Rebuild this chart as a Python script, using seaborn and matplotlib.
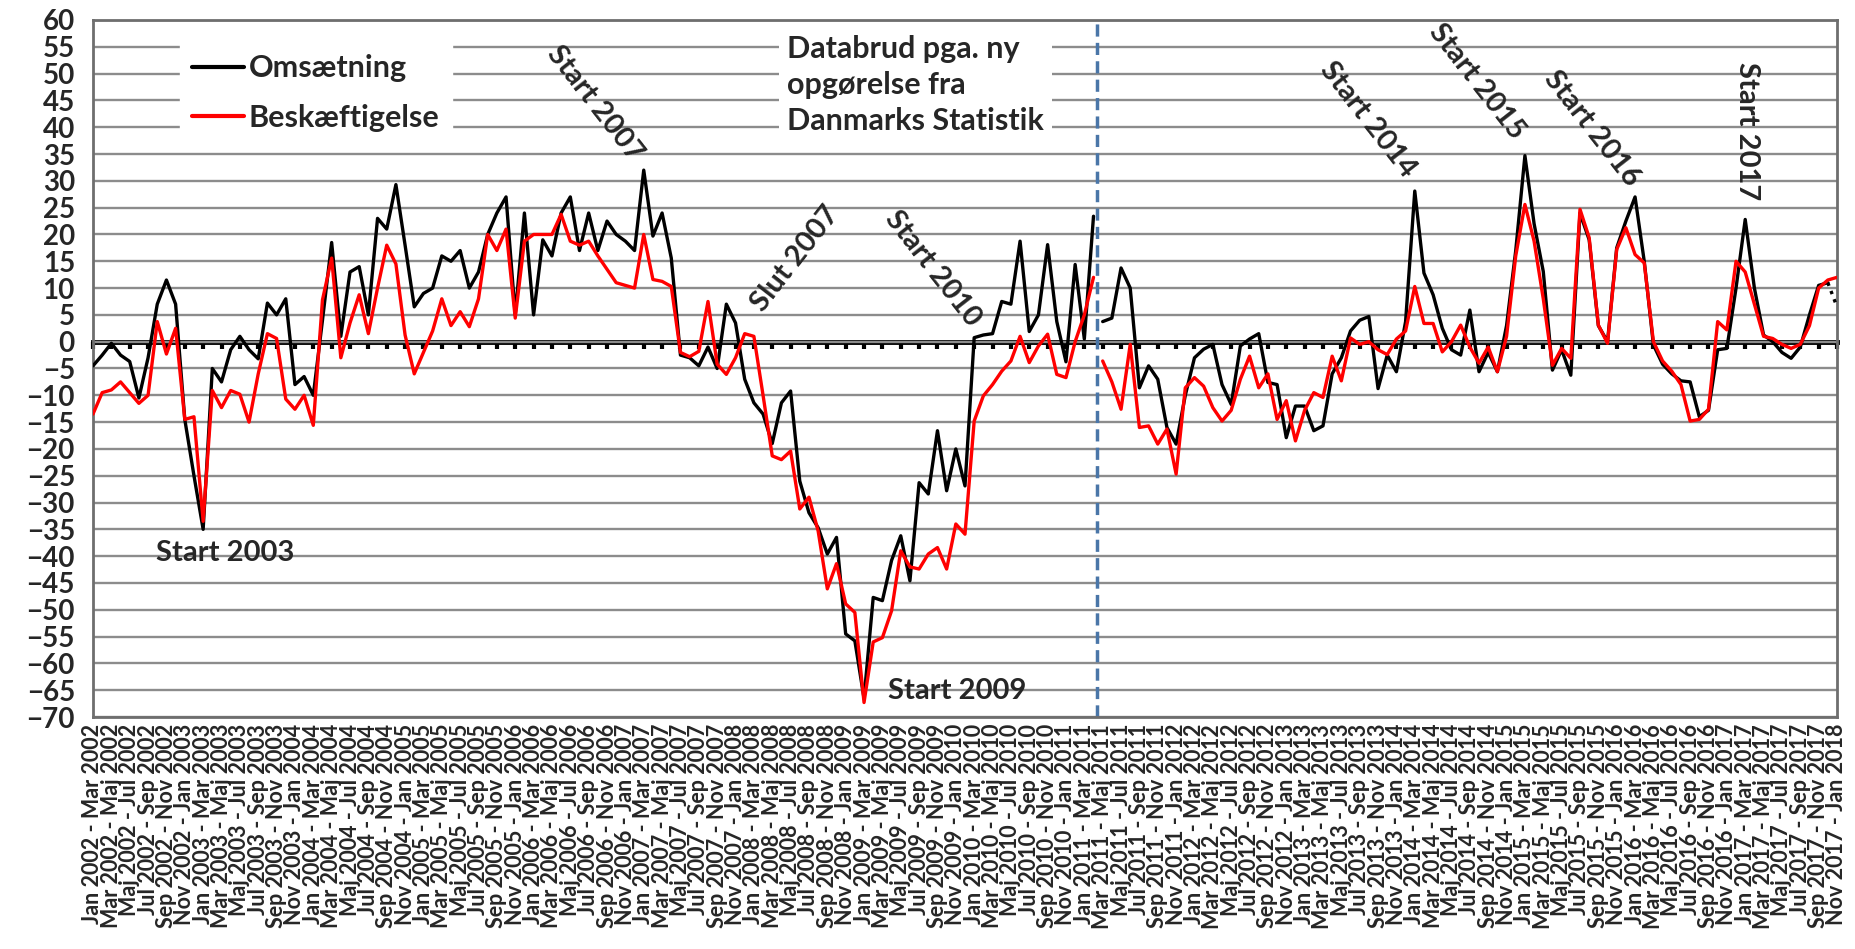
import pandas as pd
import matplotlib
matplotlib.use('Agg')
import matplotlib.pyplot as plt
from matplotlib.lines import Line2D
import seaborn as sns

# Rolling 3-month periods, Jan 2002 - Mar 2002 ... Nov 2017 - Jan 2018
month_names = ['Jan', 'Feb', 'Mar', 'Apr', 'Maj', 'Jun', 'Jul', 'Aug', 'Sep', 'Okt', 'Nov', 'Dec']
first_year = 2002
n_periods = 191
break_index = 110  # new series from Danmarks Statistik starts here

# Omsaetning (black), old series
omsaetning_old = [
    -4.5, -2.5, -0.3, -2.5, -3.7, -10.5, -3, 7, 11.5, 7, -14.5, -25,
    -35, -5, -7.5, -1.5, 1, -1.5, -3.2, 7.2, 5, 8, -8, -6.5,
    -10, 4, 18.5, 1, 13, 14, 5, 23, 21, 29.3, 18, 6.5,
    9, 10, 16, 15, 17, 10, 13, 20, 24, 27, 5, 24,
    5, 19, 16, 24, 27, 17, 24, 17, 22.5, 20, 18.75, 17,
    32, 19.7, 24, 15.6, -2.5, -3, -4.5, -1, -5, 7, 3.5, -7,
    -11.4, -13.5, -19, -11.4, -9.2, -26, -31.9, -34.7, -39.6, -36.5, -54.5, -55.8,
    -66.5, -47.7, -48.3, -40.8, -36.2, -44.6, -26.3, -28.4, -16.6, -27.8, -20, -26.9,
    0.75, 1.25, 1.5, 7.5, 7, 18.75, 1.9, 5, 18.1, 3.75, -3.75, 14.4, 0.5, 23.4,
]
# Omsaetning (black), new series
omsaetning_new = [
    3.75, 4.4, 13.75, 10, -8.6, -4.5, -7, -16, -19.1, -10,
    -3, -1.4, -0.5, -8, -11.7, -0.8, 0.5, 1.5, -7.6, -8,
    -17.9, -12, -12, -16.6, -15.7, -6, -3, 2, 4, 4.7,
    -8.75, -2.5, -5.6, 3.75, 28.1, 12.8, 8.75, 2.5, -1.5, -2.5,
    5.9, -5.6, -2, -5.6, 3, 17, 34.7, 22, 13.1, -5.3,
    -1.5, -6.25, 24, 19, 3, 0, 17.5, 22.5, 27, 15,
    -0.6, -4.2, -6, -7.3, -7.5, -14, -12.8, -1.5, -1.25, 10,
    22.8, 10, 1.25, 0, -2, -3.1, -1, 5, 10.5, 11, 6.5,
]
# Beskaeftigelse (red), old series
beskaeftigelse_old = [
    -13.5, -9.5, -9, -7.5, -9.5, -11.5, -10, 3.75, -2.3, 2.5, -14.5, -14,
    -33.5, -9.1, -12.3, -9.1, -9.8, -15, -6, 1.5, 0.6, -10.7, -12.6, -10,
    -15.6, 7.8, 15.6, -3, 3.5, 8.75, 1.5, 10, 18, 14.5, 1.25, -6,
    -2, 2, 8, 3, 5.6, 2.8, 8, 20, 17, 21, 4.4, 18.75,
    20, 20, 20, 23.75, 18.75, 18, 18.75, 16, 13.5, 11, 10.5, 10,
    20, 11.6, 11.25, 10.3, -2, -2.8, -1.8, 7.5, -4.2, -6.1, -3, 1.5,
    1, -10, -21.3, -22, -20.4, -31.2, -29, -35.3, -46.1, -41.4, -48.9, -50.5,
    -67.3, -56, -55.2, -50.2, -39, -42, -42.4, -39.6, -38.4, -42.4, -34, -35.9,
    -14.8, -10.1, -8, -5.5, -3.6, 1, -3.9, -0.8, 1.4, -6.1, -6.7, 0, 5, 12,
]
# Beskaeftigelse (red), new series
beskaeftigelse_new = [
    -3.6, -7.5, -12.6, -0.5, -16, -15.7, -19.1, -16.3, -24.7, -8.6,
    -6.7, -8.3, -12.3, -14.8, -12.8, -7, -2.7, -8.6, -6, -14.5,
    -11, -18.5, -12.8, -9.5, -10.4, -2.7, -7.3, 0.7, -0.5, 0,
    -1.5, -2.4, 0.5, 2, 10.3, 3.4, 3.4, -1.9, 0, 3.1,
    -1, -4, -1, -5.6, 1, 16, 25.6, 18.75, 8, -4.4,
    -1.25, -3.1, 24.7, 19.4, 3.1, -0.3, 17.2, 21.25, 16.25, 14.7,
    0, -3.6, -5.5, -8, -14.8, -14.5, -12.6, 3.75, 2.2, 15,
    13, 7, 1, 0.6, -0.5, -1.25, -0.5, 3, 10, 11.5, 12,
]

# tick labels every second period
tick_positions = list(range(0, n_periods, 2))
tick_labels = []
for k in tick_positions:
    m0, y0 = k % 12, first_year + k // 12
    m1, y1 = (k + 2) % 12, first_year + (k + 2) // 12
    tick_labels.append(f'{month_names[m0]} {y0} - {month_names[m1]} {y1}')

# long table
frames = []
for name, old, new in [('Omsætning', omsaetning_old, omsaetning_new),
                       ('Beskæftigelse', beskaeftigelse_old, beskaeftigelse_new)]:
    frames.append(pd.DataFrame({'period': range(0, break_index), 'value': old,
                                'serie': name, 'segment': 'old'}))
    frames.append(pd.DataFrame({'period': range(break_index, n_periods), 'value': new,
                                'serie': name, 'segment': 'new'}))
df = pd.concat(frames, ignore_index=True)

colors = {'Omsætning': 'black', 'Beskæftigelse': '#ff0000'}

sns.set_style('white')
plt.rcParams['font.family'] = ['Lato', 'DejaVu Sans']
plt.rcParams['font.weight'] = 'bold'

W, H = 1856, 949
fig = plt.figure(figsize=(W / 100, H / 100), dpi=100)
ax = fig.add_axes([93 / W, 1 - 717 / H, (1837 - 93) / W, (717 - 20) / H])

for serie in ['Omsætning', 'Beskæftigelse']:
    for seg in ['old', 'new']:
        d = df[(df['serie'] == serie) & (df['segment'] == seg)]
        if serie == 'Omsætning' and seg == 'new':
            # last step is dotted in the original
            solid = d[d['period'] <= n_periods - 2]
            tail = d[d['period'] >= n_periods - 2]
            sns.lineplot(data=solid, x='period', y='value', color=colors[serie],
                         lw=2.4, ax=ax, errorbar=None, legend=False, zorder=3)
            sns.lineplot(data=tail, x='period', y='value', color=colors[serie],
                         lw=2.4, ls=':', ax=ax, errorbar=None, legend=False, zorder=3)
        else:
            sns.lineplot(data=d, x='period', y='value', color=colors[serie],
                         lw=2.4, ax=ax, errorbar=None, legend=False,
                         zorder=4 if serie == 'Beskæftigelse' else 3)

# axes
ax.set_xlim(0, n_periods - 1)
ax.set_ylim(-70, 60)
ax.set_yticks(range(-70, 61, 5))
ax.tick_params(axis='y', length=9, width=1.5, color='#808080', labelsize=20, pad=4)
ax.set_xticks(tick_positions)
ax.set_xticklabels(tick_labels, rotation=90, fontsize=15.5)
ax.tick_params(axis='x', length=0, pad=5)
ax.set_xlabel('')
ax.set_ylabel('')
ax.yaxis.grid(True, color='#8c8c8c', lw=1.7)
ax.set_axisbelow(True)
for side in ['left', 'right', 'top', 'bottom']:
    ax.spines[side].set_color('#6e6e6e')
    ax.spines[side].set_linewidth(2)

# category axis crossing at zero, with its tick marks
zero_frac = (0 - (-70)) / 130
sec = ax.secondary_xaxis(zero_frac)
sec.set_alignment('bottom')
sec.set_xticks(tick_positions)
sec.set_xticklabels([])
sec.tick_params(length=5, width=3, color='black', direction='out')
for side in sec.spines:
    sec.spines[side].set_color('black')
    sec.spines[side].set_linewidth(3.5)

# data break
ax.axvline(109.4, color='#4a76a8', lw=2.5, ls=(0, (3.5, 1.8)), zorder=2)

# annotations
annotations = [
    ('Start 2003', 14.4, -39.4, 0),
    ('Start 2009', 94.1, -65.2, 0),
    ('Start 2007', 54.7, 44.5, -52),
    ('Slut 2007', 76.5, 15.5, 52),
    ('Start 2010', 91.5, 13.7, -52),
    ('Start 2014', 138.9, 41.5, -52),
    ('Start 2015', 150.8, 48.5, -52),
    ('Start 2016', 163.3, 39.7, -52),
    ('Start 2017', 180.2, 39.3, -90),
]
for txt, x, y, rot in annotations:
    ax.text(x, y, txt, fontsize=21, rotation=rot, rotation_mode='anchor',
            ha='center', va='center', zorder=5)

ax.text(0.398, 0.978, 'Databrud pga. ny\nopgørelse fra\nDanmarks Statistik',
        transform=ax.transAxes, fontsize=22, va='top', ha='left', linespacing=1.35,
        bbox=dict(facecolor='white', edgecolor='none', pad=6), zorder=5)

handles = [Line2D([], [], color='black', lw=3), Line2D([], [], color='#ff0000', lw=3)]
leg = ax.legend(handles, ['Omsætning', 'Beskæftigelse'], loc='upper left',
                bbox_to_anchor=(0.041, 0.99), fontsize=22, frameon=True,
                fancybox=False, framealpha=1, edgecolor='white',
                handlelength=1.7, handletextpad=0.15, labelspacing=0.7,
                borderpad=0.4)
leg.set_zorder(6)

fig.savefig('out.png', dpi=100)
